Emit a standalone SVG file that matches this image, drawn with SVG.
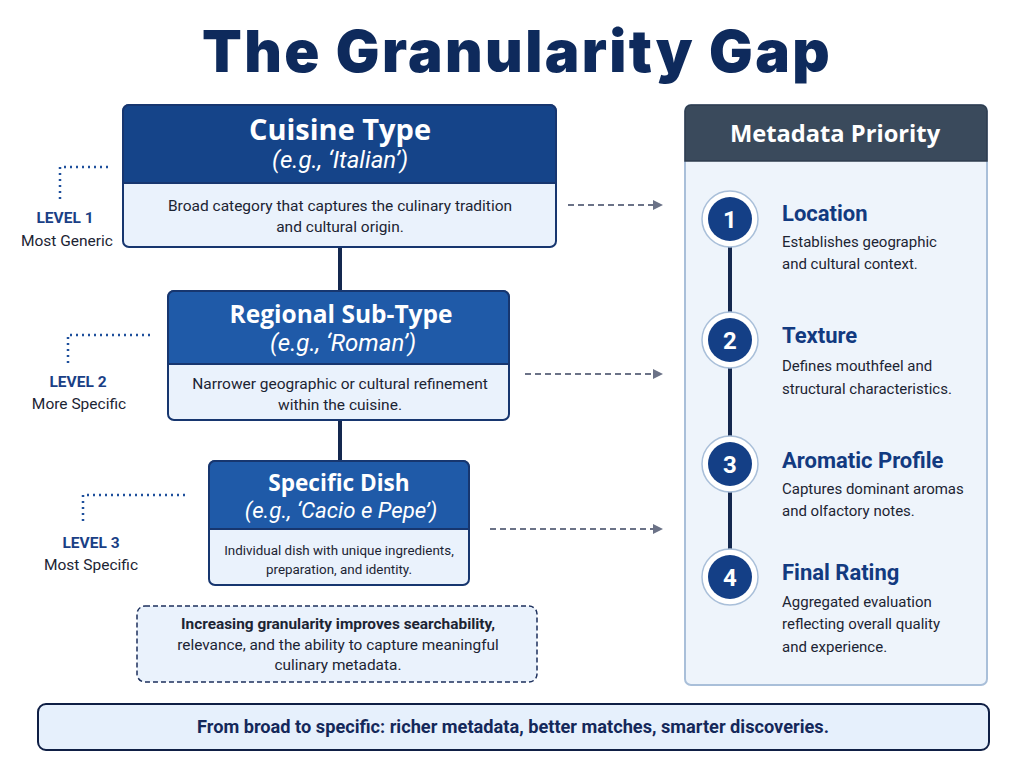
<svg xmlns="http://www.w3.org/2000/svg" width="1024" height="768" viewBox="0 0 1024 768">
<defs>
<style>
text{font-family:Roboto,"Liberation Sans",sans-serif}
.title{font-family:Inter,"Open Sans",sans-serif;font-weight:900;font-size:58px;letter-spacing:2.4px;fill:#0e2a5c}
.hd{font-family:"Open Sans",Roboto,sans-serif;font-weight:700;fill:#fff}
.eg{font-style:italic;fill:#fff}
.body{fill:#1c2433}
.lvl{font-weight:700;font-size:15.5px;fill:#1a3f86}
.lvls{font-size:15.5px;fill:#1c2433}
.pt{font-weight:700;font-size:22px;fill:#123a80}
.pd{font-size:15px;fill:#1c2433}
.num{font-weight:700;font-size:24px;fill:#fff}
.dot{fill:none;stroke:#1e4f9c;stroke-width:2.5;stroke-dasharray:2 4}
.dash{fill:none;stroke:#6b7287;stroke-width:2;stroke-dasharray:6 4}
.vline{stroke:#14284f;stroke-width:4}
</style>
<marker id="ah" viewBox="0 0 10 10" refX="8" refY="5" markerWidth="5" markerHeight="5" orient="auto">
<path d="M0,0 L10,5 L0,10 z" fill="#6b7287"/>
</marker>
</defs>
<rect width="1024" height="768" fill="#ffffff"/>
<text class="title" x="517" y="72" text-anchor="middle">The Granularity Gap</text>

<g id="connectors">
<line class="vline" x1="340" y1="247" x2="340" y2="291"/>
<line class="vline" x1="340" y1="420" x2="340" y2="461"/>
<path class="dot" d="M108,167 H60 V202"/>
<path class="dot" d="M150,335 H68 V363"/>
<path class="dot" d="M185,495 H83 V525"/>
<line class="dash" x1="568" y1="205" x2="661" y2="205" marker-end="url(#ah)"/>
<line class="dash" x1="525" y1="374" x2="661" y2="374" marker-end="url(#ah)"/>
<line class="dash" x1="490" y1="529" x2="661" y2="529" marker-end="url(#ah)"/>
</g>

<g id="level1">
<text class="lvl" x="65" y="223" text-anchor="middle">LEVEL 1</text>
<text class="lvls" x="67" y="246" text-anchor="middle">Most Generic</text>
</g>
<g id="level2">
<text class="lvl" x="78" y="387" text-anchor="middle">LEVEL 2</text>
<text class="lvls" x="79" y="409" text-anchor="middle">More Specific</text>
</g>
<g id="level3">
<text class="lvl" x="91" y="548" text-anchor="middle">LEVEL 3</text>
<text class="lvls" x="91" y="570" text-anchor="middle">Most Specific</text>
</g>

<g id="cuisine-type">
<rect x="123" y="105" width="433" height="142" rx="6" fill="#eaf2fc" stroke="#17366f" stroke-width="2"/>
<path d="M123,183 V111 a6,6 0 0 1 6,-6 H550 a6,6 0 0 1 6,6 V183 Z" fill="#154489" stroke="#17366f" stroke-width="2"/>
<text class="hd" x="340" y="140" text-anchor="middle" style="font-size:29px">Cuisine Type</text>
<text class="eg" x="340" y="168" text-anchor="middle" style="font-size:24px">(e.g., ‘Italian’)</text>
<text class="body" x="340" y="211" text-anchor="middle" style="font-size:15.5px">Broad category that captures the culinary tradition</text>
<text class="body" x="340" y="232" text-anchor="middle" style="font-size:15.5px">and cultural origin.</text>
</g>

<g id="regional-sub-type">
<rect x="168" y="291" width="341" height="129" rx="6" fill="#eaf2fc" stroke="#17366f" stroke-width="2"/>
<path d="M168,364 V297 a6,6 0 0 1 6,-6 H503 a6,6 0 0 1 6,6 V364 Z" fill="#1f5aa8" stroke="#17366f" stroke-width="2"/>
<text class="hd" x="341" y="323" text-anchor="middle" style="font-size:24.5px">Regional Sub-Type</text>
<text class="eg" x="343" y="351" text-anchor="middle" style="font-size:24px">(e.g., ‘Roman’)</text>
<text class="body" x="340" y="389" text-anchor="middle" style="font-size:15.5px">Narrower geographic or cultural refinement</text>
<text class="body" x="340" y="410" text-anchor="middle" style="font-size:15.5px">within the cuisine.</text>
</g>

<g id="specific-dish">
<rect x="209" y="461" width="260" height="124" rx="6" fill="#eaf2fc" stroke="#17366f" stroke-width="2"/>
<path d="M209,529 V467 a6,6 0 0 1 6,-6 H463 a6,6 0 0 1 6,6 V529 Z" fill="#1f5aa8" stroke="#17366f" stroke-width="2"/>
<text class="hd" x="339" y="491" text-anchor="middle" style="font-size:22.6px">Specific Dish</text>
<text class="eg" x="341" y="518" text-anchor="middle" style="font-size:22.2px">(e.g., ‘Cacio e Pepe’)</text>
<text class="body" x="339" y="555" text-anchor="middle" style="font-size:13.4px">Individual dish with unique ingredients,</text>
<text class="body" x="339" y="574" text-anchor="middle" style="font-size:13.4px">preparation, and identity.</text>
</g>

<g id="note">
<rect x="137" y="606" width="400" height="76" rx="8" fill="#eaf2fc" stroke="#1c2f5c" stroke-width="1.5" stroke-dasharray="5 3"/>
<text class="body" x="338" y="629" text-anchor="middle" style="font-size:15.4px;font-weight:700">Increasing granularity improves searchability,</text>
<text class="body" x="338" y="650" text-anchor="middle" style="font-size:15.4px">relevance, and the ability to capture meaningful</text>
<text class="body" x="338" y="670" text-anchor="middle" style="font-size:15.4px">culinary metadata.</text>
</g>

<g id="metadata-priority">
<rect x="685" y="105" width="302" height="580" rx="6" fill="#eef4fb" stroke="#a9bfd9" stroke-width="2"/>
<path d="M685,161 V111 a6,6 0 0 1 6,-6 H981 a6,6 0 0 1 6,6 V161 Z" fill="#3a4a5c" stroke="#2f3d4d" stroke-width="1.5"/>
<text class="hd" x="835" y="142" text-anchor="middle" style="font-size:23.7px">Metadata Priority</text>
<line class="vline" x1="730" y1="219" x2="730" y2="577" stroke-width="3.5"/>
</g>

<g id="p1">
<circle cx="730" cy="219" r="28" fill="#ffffff" stroke="#a9bfd9" stroke-width="1.5"/>
<circle cx="730" cy="219" r="22" fill="#143f86"/>
<text class="num" x="730" y="228" text-anchor="middle">1</text>
<text class="pt" x="782" y="221">Location</text>
<text class="pd" x="782" y="247">Establishes geographic</text>
<text class="pd" x="782" y="269">and cultural context.</text>
</g>
<g id="p2">
<circle cx="730" cy="340" r="28" fill="#ffffff" stroke="#a9bfd9" stroke-width="1.5"/>
<circle cx="730" cy="340" r="22" fill="#143f86"/>
<text class="num" x="730" y="349" text-anchor="middle">2</text>
<text class="pt" x="782" y="343">Texture</text>
<text class="pd" x="782" y="371">Defines mouthfeel and</text>
<text class="pd" x="782" y="394">structural characteristics.</text>
</g>
<g id="p3">
<circle cx="730" cy="464" r="28" fill="#ffffff" stroke="#a9bfd9" stroke-width="1.5"/>
<circle cx="730" cy="464" r="22" fill="#143f86"/>
<text class="num" x="730" y="473" text-anchor="middle">3</text>
<text class="pt" x="782" y="468">Aromatic Profile</text>
<text class="pd" x="782" y="494">Captures dominant aromas</text>
<text class="pd" x="782" y="516">and olfactory notes.</text>
</g>
<g id="p4">
<circle cx="730" cy="577" r="28" fill="#ffffff" stroke="#a9bfd9" stroke-width="1.5"/>
<circle cx="730" cy="577" r="22" fill="#143f86"/>
<text class="num" x="730" y="586" text-anchor="middle">4</text>
<text class="pt" x="782" y="580">Final Rating</text>
<text class="pd" x="782" y="607">Aggregated evaluation</text>
<text class="pd" x="782" y="629">reflecting overall quality</text>
<text class="pd" x="782" y="652">and experience.</text>
</g>

<g id="banner">
<rect x="38" y="704" width="951" height="46" rx="8" fill="#e6f0fc" stroke="#0f1f45" stroke-width="2"/>
<text x="513" y="733" text-anchor="middle" font-weight="700" font-size="18.2" fill="#14285a">From broad to specific: richer metadata, better matches, smarter discoveries.</text>
</g>
</svg>
